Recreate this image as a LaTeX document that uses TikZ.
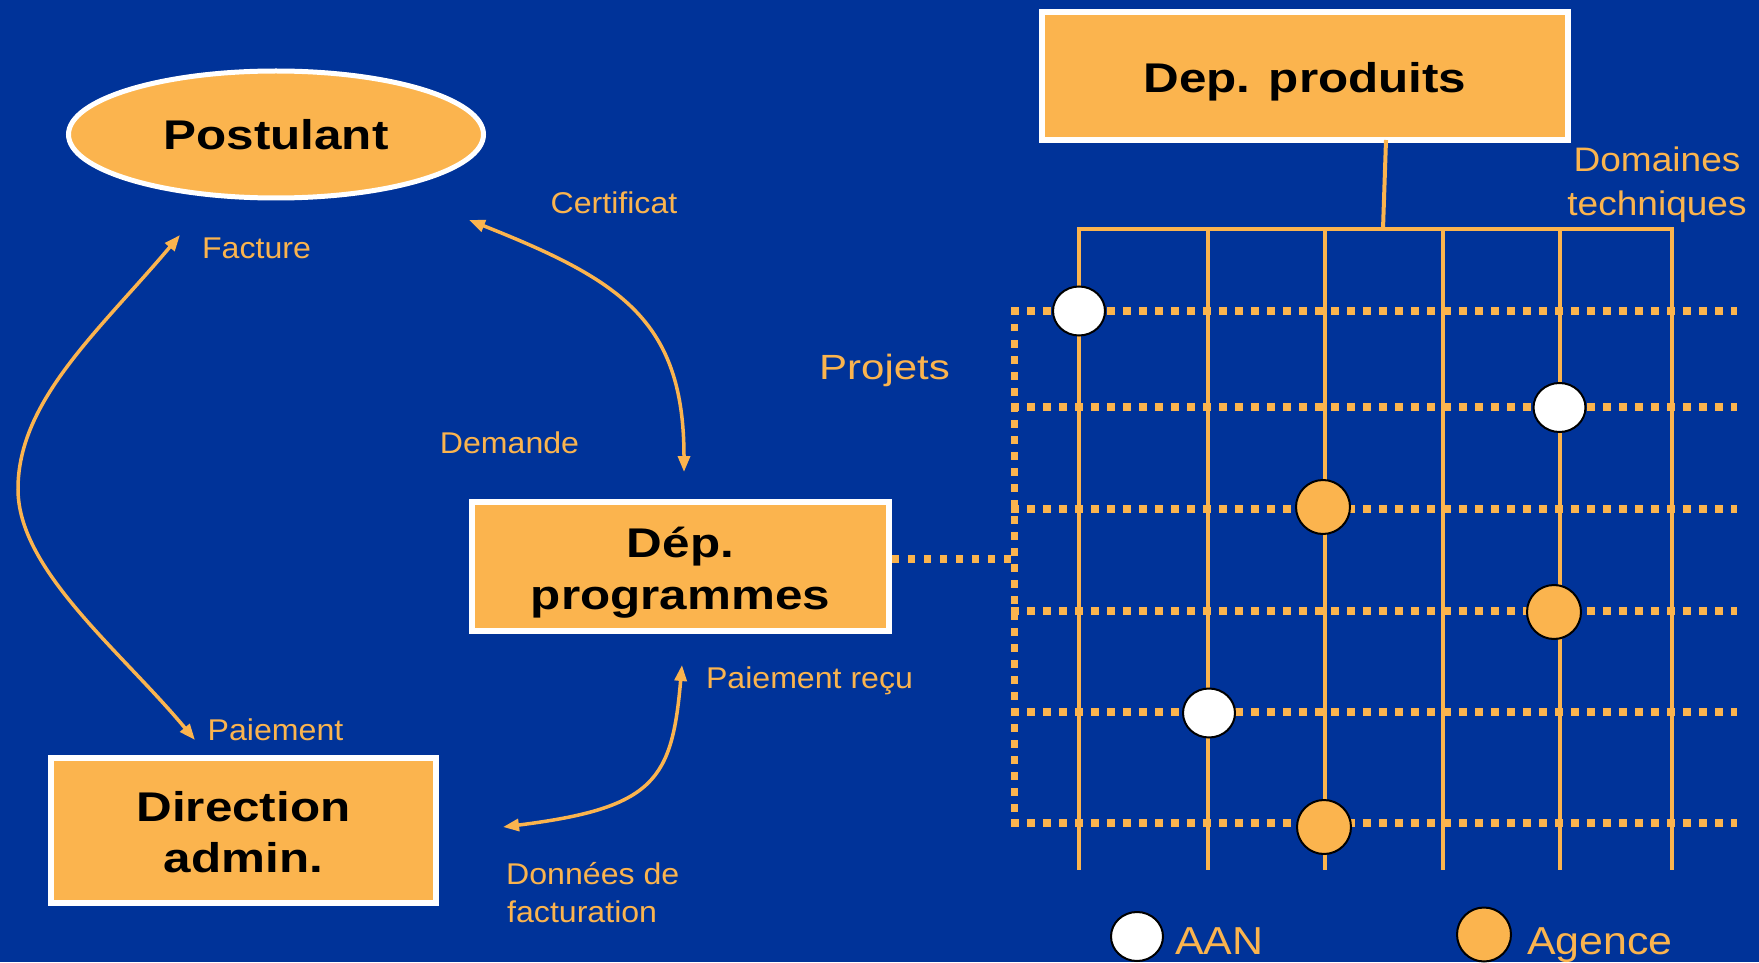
\documentclass[tikz,border=0pt]{standalone}
\usepackage{fontspec}
\setmainfont{Liberation Sans}
\newfontfamily\bxfont{Liberation Sans}[FakeStretch=1.19]
\newfontfamily\lbfont{Liberation Sans}[FakeStretch=1.07]
\newfontfamily\bgfont{Liberation Sans}[FakeStretch=1.1]
\newfontfamily\pjfont{Liberation Sans}[FakeStretch=1.2]
\newfontfamily\dmfont{Liberation Sans}[FakeStretch=1.09]
\usetikzlibrary{shapes.geometric,arrows.meta}
\definecolor{bgblue}{RGB}{0,51,153}
\definecolor{orng}{RGB}{251,180,78}
\begin{document}
\begin{tikzpicture}[x=1pt,y=-1pt,
  boxnode/.style={draw=white,line width=5.5pt,fill=orng,inner sep=0pt},
  boxtext/.style={inner sep=0pt,anchor=base,text=black,font=\bxfont\bfseries\fontsize{41.5}{51}\selectfont},
  lbl/.style={text=orng,inner sep=0pt,anchor=base,font=\lbfont\fontsize{30}{36}\selectfont},
  biglbl/.style={text=orng,inner sep=0pt,anchor=base west,font=\bgfont\fontsize{39}{45}\selectfont},
  domlbl/.style={text=orng,inner sep=0pt,anchor=base,font=\dmfont\fontsize{34}{39}\selectfont},
  arr/.style={draw=orng,line width=3.5pt,{Triangle[length=16pt,width=12pt]}-{Triangle[length=16pt,width=12pt]}},
  gline/.style={draw=orng,line width=4pt},
  dots/.style={draw=orng,line width=7.5pt,dash pattern=on 7.5pt off 8.5pt},
  dotw/.style={ellipse,draw=black,line width=2pt,fill=white,minimum width=52pt,minimum height=49pt,inner sep=0pt},
  doto/.style={ellipse,draw=black,line width=2pt,fill=orng,minimum width=54pt,minimum height=54pt,inner sep=0pt}
]
% background
\fill[bgblue] (0,0) rectangle (1759,962);

% ---------- left part ----------
\node[ellipse,draw=white,line width=5pt,fill=orng,inner sep=0pt,minimum width=415pt,minimum height=127pt,
  text=black,font=\bxfont\bfseries\fontsize{41.5}{51}\selectfont] (post) at (276,134.5) {Postulant};
\node[boxnode,minimum width=417pt,minimum height=129pt] (depprog) at (680.5,566.5) {};
\node[boxtext] (depprog1) at (680.5,557.5) {Dép.};
\node[boxtext] (depprog2) at (680.5,609) {programmes};
\node[boxnode,minimum width=385pt,minimum height=145pt] (diradm) at (243.5,830.5) {};
\node[boxtext] (diradm1) at (243.5,821.7) {Direction};
\node[boxtext] (diradm2) at (243.5,872.3) {admin.};

% labels
\node[lbl] (lcert) at (614,214) {Certificat};
\node[lbl] (lfact) at (256.5,258.5) {Facture};
\node[lbl] (ldem) at (509.5,453) {Demande};
\node[lbl] (lpaie) at (275.5,740) {Paiement};
\node[lbl] (lpaier) at (809.5,688) {Paiement reçu};
\node[lbl,anchor=base west] (ldon1) at (506,884) {Données de};
\node[lbl,anchor=base west] (ldon2) at (507,922) {facturation};

% arrows
\coordinate (fT) at (180,235);
\coordinate (fL) at (18,489);
\coordinate (fB) at (195,740);
\draw[arr] (fT) .. controls (100,330) and (18,400) .. (fL) .. controls (18,570) and (120,650) .. (fB);
\coordinate (cT) at (469,220);
\coordinate (cB) at (684,472);
\draw[arr] (cT) .. controls (620,280) and (684,320) .. (cB);
\coordinate (pT) at (682,665);
\coordinate (pB) at (503,827);
\draw[arr] (pT) .. controls (672,780) and (655,808) .. (pB);

% ---------- right part ----------
\node[boxnode,minimum width=526pt,minimum height=128pt] (depprod) at (1305,76) {};
\node[boxtext] (depprodT) at (1305,92.5) {Dep. produits};

% dotted project rows
\foreach \gy in {311,407,509,611,712,823}
  \draw[dots] (1011,\gy) -- (1737,\gy);
\draw[dots] (1014.7,308) -- (1014.7,827);
\coordinate (pj) at (1014.7,559);
\draw[dots] (depprog.east |- pj) -- (pj);

% domain tree
\coordinate (stemT) at (1386,140);
\coordinate (stemB) at (1383,229);
\draw[gline] (stemT) -- (stemB);
\draw[gline] (1077,229) -- (1673.5,229);
\foreach \gx in {1079,1208,1325,1443,1559.5,1671.5}
  \draw[gline] (\gx,229) -- (\gx,870);

% circles
\node[dotw] (w1) at (1079,311) {};
\node[dotw] (w2) at (1559.5,407.5) {};
\node[doto] (o1) at (1323,507) {};
\node[doto] (o2) at (1554,612) {};
\node[dotw] (w3) at (1209,713) {};
\node[doto] (o3) at (1324,827) {};

% texts
\node[text=orng,inner sep=0pt,anchor=base,font=\pjfont\fontsize{35}{42}\selectfont] (lproj) at (884.5,379) {Projets};
\node[domlbl] (ldom1) at (1657,172) {Domaines};
\node[domlbl] (ldom2) at (1657,215.5) {techniques};

% legend
\node[dotw] (legw) at (1137,936.5) {};
\node[biglbl] (laan) at (1175,954) {AAN};
\node[doto] (lego) at (1484,934.5) {};
\node[biglbl] (lage) at (1527,954) {Agence};
\end{tikzpicture}
\end{document}
